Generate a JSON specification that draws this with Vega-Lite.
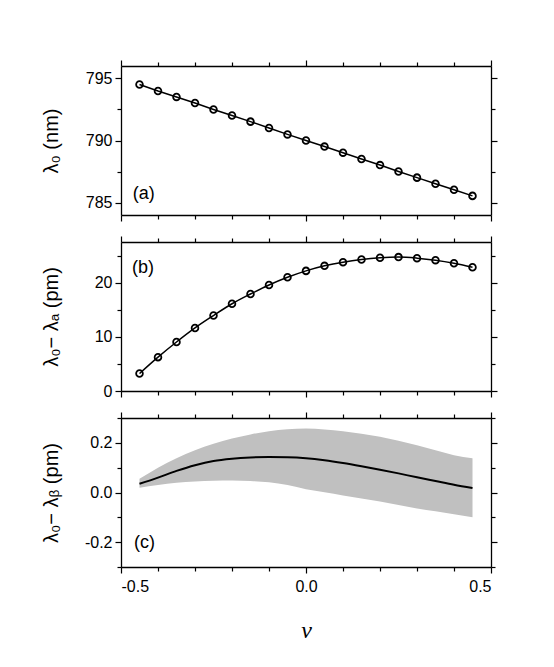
{
  "$schema": "https://vega.github.io/schema/vega-lite/v6.json",
  "autosize": {"type": "pad"},
  "padding": {"left": 40, "top": 59, "right": 5, "bottom": 5},
  "background": "white",
  "bounds": "flush",
  "spacing": 27,
  "config": {
    "font": "Liberation Sans",
    "view": {"stroke": null},
    "axis": {
      "domainColor": "black", "domainWidth": 1.3,
      "tickColor": "black", "tickWidth": 1.2,
      "labelColor": "black", "titleColor": "black",
      "grid": false,
      "labelFont": "Liberation Sans", "labelFontSize": 16, "labelPadding": 3,
      "titleFont": "Liberation Sans", "titleFontSize": 20, "titleFontWeight": "normal"
    }
  },
  "datasets": {
    "ab": [
      {"v": -0.45, "a": 794.51, "b": 3.22},
      {"v": -0.40, "a": 793.99, "b": 6.25},
      {"v": -0.35, "a": 793.51, "b": 9.04},
      {"v": -0.30, "a": 793.02, "b": 11.64},
      {"v": -0.25, "a": 792.50, "b": 13.93},
      {"v": -0.20, "a": 792.01, "b": 16.10},
      {"v": -0.15, "a": 791.52, "b": 17.90},
      {"v": -0.10, "a": 791.01, "b": 19.57},
      {"v": -0.05, "a": 790.49, "b": 20.99},
      {"v": 0.00, "a": 790.00, "b": 22.17},
      {"v": 0.05, "a": 789.51, "b": 23.10},
      {"v": 0.10, "a": 789.02, "b": 23.78},
      {"v": 0.15, "a": 788.51, "b": 24.27},
      {"v": 0.20, "a": 788.02, "b": 24.58},
      {"v": 0.25, "a": 787.50, "b": 24.71},
      {"v": 0.30, "a": 787.01, "b": 24.52},
      {"v": 0.35, "a": 786.52, "b": 24.15},
      {"v": 0.40, "a": 786.03, "b": 23.59},
      {"v": 0.45, "a": 785.54, "b": 22.85}
    ],
    "c": [
      {"v": -0.45, "mid": 0.035, "lo": 0.019, "hi": 0.055},
      {"v": -0.40, "mid": 0.060, "lo": 0.030, "hi": 0.100},
      {"v": -0.35, "mid": 0.087, "lo": 0.039, "hi": 0.138},
      {"v": -0.30, "mid": 0.110, "lo": 0.044, "hi": 0.170},
      {"v": -0.25, "mid": 0.127, "lo": 0.047, "hi": 0.196},
      {"v": -0.20, "mid": 0.136, "lo": 0.048, "hi": 0.217},
      {"v": -0.15, "mid": 0.141, "lo": 0.046, "hi": 0.234},
      {"v": -0.10, "mid": 0.143, "lo": 0.041, "hi": 0.247},
      {"v": -0.05, "mid": 0.142, "lo": 0.030, "hi": 0.255},
      {"v": 0.00, "mid": 0.138, "lo": 0.013, "hi": 0.258},
      {"v": 0.05, "mid": 0.130, "lo": 0.001, "hi": 0.254},
      {"v": 0.10, "mid": 0.119, "lo": -0.012, "hi": 0.247},
      {"v": 0.15, "mid": 0.106, "lo": -0.024, "hi": 0.237},
      {"v": 0.20, "mid": 0.092, "lo": -0.036, "hi": 0.224},
      {"v": 0.25, "mid": 0.077, "lo": -0.050, "hi": 0.208},
      {"v": 0.30, "mid": 0.061, "lo": -0.064, "hi": 0.190},
      {"v": 0.35, "mid": 0.046, "lo": -0.076, "hi": 0.170},
      {"v": 0.40, "mid": 0.031, "lo": -0.088, "hi": 0.150},
      {"v": 0.45, "mid": 0.018, "lo": -0.100, "hi": 0.138}
    ],
    "labA": [{"v": -0.468, "y": 785.7, "t": "(a)"}],
    "labB": [{"v": -0.47, "y": 22.7, "t": "(b)"}],
    "labC": [{"v": -0.465, "y": -0.205, "t": "(c)"}]
  },
  "vconcat": [
    {
      "width": 370, "height": 149,
      "layer": [
        {
          "data": {"name": "ab"},
          "mark": {"type": "line", "color": "black", "strokeWidth": 1.5},
          "encoding": {
            "x": {"field": "v", "type": "quantitative", "scale": {"domain": [-0.5, 0.5], "nice": false, "zero": false},
              "axis": {"orient": "bottom", "values": [-0.5, -0.4, -0.3, -0.2, -0.1, 0, 0.1, 0.2, 0.3, 0.4, 0.5], "labels": false, "title": null,
                "tickSize": {"condition": {"test": "abs(datum.value*2 - round(datum.value*2)) < 1e-6", "value": 6}, "value": 4}}},
            "y": {"field": "a", "type": "quantitative", "scale": {"domain": [784, 796], "nice": false, "zero": false},
              "axis": {"orient": "left", "values": [785, 787.5, 790, 792.5, 795], "format": "d",
                "labelExpr": "datum.value % 5 === 0 ? datum.label : ''",
                "title": "λ₀ (nm)", "titleX": -70, "titleBaseline": "middle",
                "tickSize": {"condition": {"test": "datum.value % 5 === 0", "value": 6}, "value": 4}}}
          }
        },
        {
          "data": {"name": "ab"},
          "mark": {"type": "point", "filled": false, "color": "black", "strokeWidth": 1.8, "size": 45, "opacity": 1},
          "encoding": {
            "x": {"field": "v", "type": "quantitative", "scale": {"domain": [-0.5, 0.5], "nice": false, "zero": false},
              "axis": {"orient": "top", "values": [-0.5, -0.4, -0.3, -0.2, -0.1, 0, 0.1, 0.2, 0.3, 0.4, 0.5], "labels": false, "title": null,
                "tickSize": {"condition": {"test": "abs(datum.value*2 - round(datum.value*2)) < 1e-6", "value": 6}, "value": 4}}},
            "y": {"field": "a", "type": "quantitative", "scale": {"domain": [784, 796], "nice": false, "zero": false},
              "axis": {"orient": "right", "values": [785, 787.5, 790, 792.5, 795], "labels": false, "title": null,
                "tickSize": {"condition": {"test": "datum.value % 5 === 0", "value": 6}, "value": 4}}}
          }
        },
        {
          "data": {"name": "labA"},
          "mark": {"type": "text", "align": "left", "baseline": "middle", "fontSize": 18, "color": "black", "font": "Liberation Sans"},
          "encoding": {
            "x": {"field": "v", "type": "quantitative", "scale": {"domain": [-0.5, 0.5], "nice": false, "zero": false}, "axis": null},
            "y": {"field": "y", "type": "quantitative", "scale": {"domain": [784, 796], "nice": false, "zero": false}, "axis": null},
            "text": {"field": "t"}
          }
        }
      ],
      "resolve": {"axis": {"x": "independent", "y": "independent"}}
    },
    {
      "width": 370, "height": 149,
      "layer": [
        {
          "data": {"name": "ab"},
          "mark": {"type": "line", "color": "black", "strokeWidth": 1.5, "interpolate": "monotone"},
          "encoding": {
            "x": {"field": "v", "type": "quantitative", "scale": {"domain": [-0.5, 0.5], "nice": false, "zero": false},
              "axis": {"orient": "bottom", "values": [-0.5, -0.4, -0.3, -0.2, -0.1, 0, 0.1, 0.2, 0.3, 0.4, 0.5], "labels": false, "title": null,
                "tickSize": {"condition": {"test": "abs(datum.value*2 - round(datum.value*2)) < 1e-6", "value": 6}, "value": 4}}},
            "y": {"field": "b", "type": "quantitative", "scale": {"domain": [0, 27.5], "nice": false, "zero": false},
              "axis": {"orient": "left", "values": [0, 5, 10, 15, 20, 25], "format": "d",
                "labelExpr": "datum.value % 10 === 0 ? datum.label : ''",
                "title": "λ₀−  λₐ  (pm)", "titleX": -70, "titleBaseline": "middle",
                "tickSize": {"condition": {"test": "datum.value % 10 === 0", "value": 6}, "value": 4}}}
          }
        },
        {
          "data": {"name": "ab"},
          "mark": {"type": "point", "filled": false, "color": "black", "strokeWidth": 1.8, "size": 45, "opacity": 1},
          "encoding": {
            "x": {"field": "v", "type": "quantitative", "scale": {"domain": [-0.5, 0.5], "nice": false, "zero": false},
              "axis": {"orient": "top", "values": [-0.5, -0.4, -0.3, -0.2, -0.1, 0, 0.1, 0.2, 0.3, 0.4, 0.5], "labels": false, "title": null,
                "tickSize": {"condition": {"test": "abs(datum.value*2 - round(datum.value*2)) < 1e-6", "value": 6}, "value": 4}}},
            "y": {"field": "b", "type": "quantitative", "scale": {"domain": [0, 27.5], "nice": false, "zero": false},
              "axis": {"orient": "right", "values": [0, 5, 10, 15, 20, 25], "labels": false, "title": null,
                "tickSize": {"condition": {"test": "datum.value % 10 === 0", "value": 6}, "value": 4}}}
          }
        },
        {
          "data": {"name": "labB"},
          "mark": {"type": "text", "align": "left", "baseline": "middle", "fontSize": 18, "color": "black", "font": "Liberation Sans"},
          "encoding": {
            "x": {"field": "v", "type": "quantitative", "scale": {"domain": [-0.5, 0.5], "nice": false, "zero": false}, "axis": null},
            "y": {"field": "y", "type": "quantitative", "scale": {"domain": [0, 27.5], "nice": false, "zero": false}, "axis": null},
            "text": {"field": "t"}
          }
        }
      ],
      "resolve": {"axis": {"x": "independent", "y": "independent"}}
    },
    {
      "width": 370, "height": 149,
      "layer": [
        {
          "data": {"name": "c"},
          "mark": {"type": "area", "color": "#c0c0c0", "opacity": 1, "interpolate": "monotone"},
          "encoding": {
            "x": {"field": "v", "type": "quantitative", "scale": {"domain": [-0.5, 0.5], "nice": false, "zero": false},
              "axis": {"orient": "bottom", "values": [-0.5, -0.4, -0.3, -0.2, -0.1, 0, 0.1, 0.2, 0.3, 0.4, 0.5],
                "labelExpr": "abs(datum.value*2 - round(datum.value*2)) < 1e-6 ? (datum.value < -1e-9 ? '-' + format(-datum.value, '.1f') : format(abs(datum.value), '.1f')) : ''",
                "labelPadding": 5,
                "title": "v", "titleFont": "Liberation Serif", "titleFontStyle": "italic", "titleFontSize": 24, "titlePadding": 24,
                "tickSize": {"condition": {"test": "abs(datum.value*2 - round(datum.value*2)) < 1e-6", "value": 6}, "value": 4}}},
            "y": {"field": "lo", "type": "quantitative", "scale": {"domain": [-0.3, 0.3], "nice": false, "zero": false},
              "axis": {"orient": "left", "values": [-0.3, -0.2, -0.1, 0, 0.1, 0.2, 0.3],
                "labelExpr": "abs(datum.value*5 - round(datum.value*5)) < 1e-6 ? (datum.value < -1e-9 ? '-' + format(-datum.value, '.1f') : format(abs(datum.value), '.1f')) : ''",
                "title": "λ₀−  λᵦ  (pm)", "titleX": -70, "titleBaseline": "middle",
                "tickSize": {"condition": {"test": "abs(datum.value*5 - round(datum.value*5)) < 1e-6", "value": 6}, "value": 4}}},
            "y2": {"field": "hi"}
          }
        },
        {
          "data": {"name": "c"},
          "mark": {"type": "line", "color": "black", "strokeWidth": 2, "interpolate": "monotone"},
          "encoding": {
            "x": {"field": "v", "type": "quantitative", "scale": {"domain": [-0.5, 0.5], "nice": false, "zero": false},
              "axis": {"orient": "top", "values": [-0.5, -0.4, -0.3, -0.2, -0.1, 0, 0.1, 0.2, 0.3, 0.4, 0.5], "labels": false, "title": null,
                "tickSize": {"condition": {"test": "abs(datum.value*2 - round(datum.value*2)) < 1e-6", "value": 6}, "value": 4}}},
            "y": {"field": "mid", "type": "quantitative", "scale": {"domain": [-0.3, 0.3], "nice": false, "zero": false},
              "axis": {"orient": "right", "values": [-0.3, -0.2, -0.1, 0, 0.1, 0.2, 0.3], "labels": false, "title": null,
                "tickSize": {"condition": {"test": "abs(datum.value*5 - round(datum.value*5)) < 1e-6", "value": 6}, "value": 4}}}
          }
        },
        {
          "data": {"name": "labC"},
          "mark": {"type": "text", "align": "left", "baseline": "middle", "fontSize": 18, "color": "black", "font": "Liberation Sans"},
          "encoding": {
            "x": {"field": "v", "type": "quantitative", "scale": {"domain": [-0.5, 0.5], "nice": false, "zero": false}, "axis": null},
            "y": {"field": "y", "type": "quantitative", "scale": {"domain": [-0.3, 0.3], "nice": false, "zero": false}, "axis": null},
            "text": {"field": "t"}
          }
        }
      ],
      "resolve": {"axis": {"x": "independent", "y": "independent"}}
    }
  ]
}
